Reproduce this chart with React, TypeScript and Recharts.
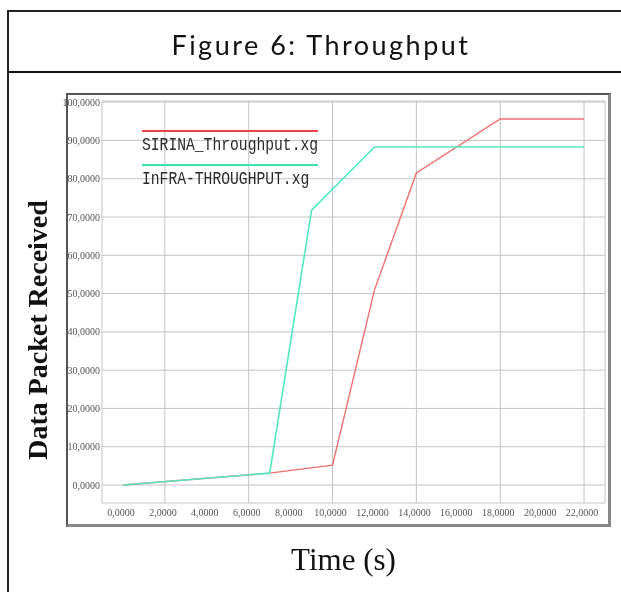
import React from "react";
import { LineChart, Line, XAxis, YAxis, CartesianGrid, Legend, Label } from "recharts";

const sirinaTime = [0, 7, 10, 12, 14, 18, 22];
const sirinaValue = [0, 3.1, 5.2, 50.9, 81.5, 95.6, 95.6];
const infraTime = [0, 7, 9, 12, 22];
const infraValue = [0, 3.1, 71.8, 88.3, 88.3];
const xTicks = [0, 2, 4, 6, 8, 10, 12, 14, 16, 18, 20, 22];
const yTicks = [0, 10, 20, 30, 40, 50, 60, 70, 80, 90, 100];
const seriesNames = ["SIRINA_Throughput.xg", "InFRA-THROUGHPUT.xg"];
const yTitle = "Data Packet Received";
const xTitle = "Time (s)";

const sirinaData = sirinaTime.map((t, i) => ({ t, v: sirinaValue[i] }));
const infraData = infraTime.map((t, i) => ({ t, v: infraValue[i] }));

const legendColors: Record<string, string> = {
  [seriesNames[0]]: "#e8454a",
  [seriesNames[1]]: "#3ee0b0",
};

const renderLegend = (props: any) => {
  const payload = (props.payload || []).slice().sort(
    (a: any, b: any) => seriesNames.indexOf(a.value) - seriesNames.indexOf(b.value)
  );
  return (
    <div style={{ width: 180 }}>
      {payload.map((p: any) => (
        <div key={p.value} style={{ height: 34, position: "relative" }}>
          <div style={{ position: "absolute", left: 0, top: 0, width: 176, height: 2, background: legendColors[p.value] }} />
          <div
            style={{
              position: "absolute",
              left: 0,
              top: 5,
              fontFamily: "'Liberation Mono', 'DejaVu Sans Mono', monospace",
              fontSize: 18,
              lineHeight: "20px",
              color: "#2a2a2a",
              whiteSpace: "nowrap",
              transform: "scaleX(0.815)",
              transformOrigin: "0 0",
            }}
          >
            {p.value}
          </div>
        </div>
      ))}
    </div>
  );
};

const renderYTitle = (props: any) => {
  const vb = props.viewBox || {};
  const cx = vb.x + 29;
  const cy = vb.y + vb.height / 2 + 28;
  return (
    <text
      x={cx}
      y={cy}
      transform={`rotate(-90, ${cx}, ${cy})`}
      textAnchor="middle"
      dominantBaseline="central"
      style={{ fontFamily: "'Liberation Serif', serif", fontSize: 28, fontWeight: "bold", fill: "#111" }}
    >
      {yTitle}
    </text>
  );
};

export default function App() {
  return (
    <div>
      <div
        style={{
          position: "fixed",
          left: 7,
          top: 10,
          width: 626,
          height: 700,
          borderLeft: "2px solid #222",
          borderTop: "2px solid #222",
          boxSizing: "border-box",
        }}
      >
        <div
          style={{
            height: 61,
            borderBottom: "2px solid #111",
            display: "flex",
            alignItems: "center",
            justifyContent: "center",
            paddingTop: 5,
            boxSizing: "border-box",
            fontFamily: "Lato, 'Noto Sans', sans-serif",
            fontSize: 27,
            letterSpacing: 2.5,
            color: "#111",
          }}
        >
          Figure 6: Throughput
        </div>
      </div>
      <div
        style={{
          position: "fixed",
          left: 66,
          top: 93,
          width: 545,
          height: 434,
          borderTop: "2px solid #555",
          borderLeft: "2px solid #555",
          borderRight: "3px solid #888",
          borderBottom: "3px solid #888",
          boxSizing: "border-box",
        }}
      />
      <div style={{ position: "fixed", left: 0, top: 0 }}>
        <LineChart width={621} height={592} margin={{ top: 101, right: 16, bottom: 9, left: 8 }}>
          <CartesianGrid stroke="#c4c4c4" strokeWidth={1} />
          <XAxis
            type="number"
            dataKey="t"
            domain={[-1, 23]}
            ticks={xTicks}
            allowDataOverflow
            tickFormatter={(v: number) => `${v},0000`}
            tick={{ fontFamily: "'Liberation Serif', serif", fontSize: 10, fill: "#555", dx: -2 }}
            tickSize={0}
            tickMargin={6}
            axisLine={false}
            height={80}
          >
            <Label
              value={xTitle}
              position="insideBottom"
              offset={13}
              dx={-10}
              style={{ fontFamily: "'Liberation Serif', serif", fontSize: 31, fill: "#111" }}
            />
          </XAxis>
          <YAxis
            type="number"
            domain={[-4.7, 100.3]}
            ticks={yTicks}
            allowDataOverflow
            tickFormatter={(v: number) => `${v},0000`}
            tick={{ fontFamily: "'Liberation Serif', serif", fontSize: 10, fill: "#555" }}
            tickSize={0}
            tickMargin={2}
            axisLine={false}
            width={94}
          >
            <Label value={yTitle} position="insideLeft" content={renderYTitle} />
          </YAxis>
          <Legend
            layout="horizontal"
            verticalAlign="middle"
            align="center"
            content={renderLegend}
            wrapperStyle={{ left: 142, top: 130, width: 180, height: 68 }}
          />
          <Line
            data={sirinaData}
            dataKey="v"
            name={seriesNames[0]}
            type="linear"
            stroke="#f07070"
            strokeWidth={1.4}
            dot={false}
            activeDot={false}
            isAnimationActive={false}
          />
          <Line
            data={infraData}
            dataKey="v"
            name={seriesNames[1]}
            type="linear"
            stroke="#55e6bf"
            strokeWidth={1.6}
            dot={false}
            activeDot={false}
            isAnimationActive={false}
          />
        </LineChart>
      </div>
    </div>
  );
}
